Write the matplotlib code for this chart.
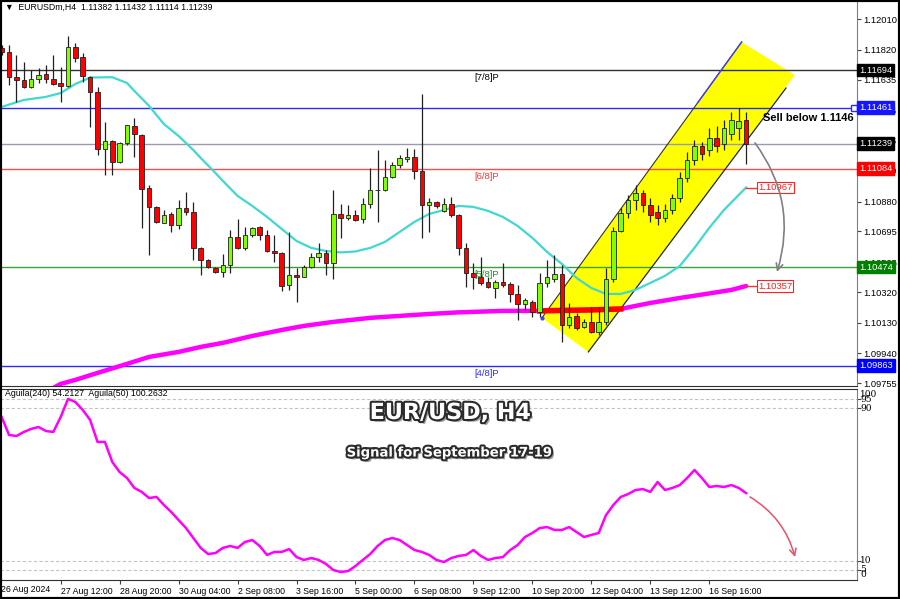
import numpy as np
import matplotlib
matplotlib.use("Agg")
import matplotlib.pyplot as plt
from matplotlib import patheffects as pe
from matplotlib.patches import Polygon, Rectangle
from matplotlib.transforms import blended_transform_factory

plt.rcParams['font.family'] = ['Liberation Sans', 'DejaVu Sans']

# ── H4 candles, EURUSD, 26 Aug -> 17 Sep 2024 ──────────────────────────
opens = [1.11829, 1.11808, 1.11653, 1.11633, 1.11591, 1.11639, 1.11670, 1.11637, 1.11612, 1.11596,
         1.11839, 1.11773, 1.11653, 1.11560, 1.11204, 1.11257, 1.11127, 1.11241, 1.11348, 1.11292,
         1.10962, 1.10849, 1.10750, 1.10801, 1.10735, 1.10839, 1.10814, 1.10591, 1.10519, 1.10467,
         1.10442, 1.10488, 1.10663, 1.10591, 1.10673, 1.10725, 1.10673, 1.10576, 1.10560, 1.10364,
         1.10426, 1.10415, 1.10473, 1.10535, 1.10560, 1.10498, 1.10803, 1.10777, 1.10797, 1.10771,
         1.10865, 1.10952, 1.10950, 1.11034, 1.11107, 1.11144, 1.11158, 1.11071, 1.10859, 1.10879,
         1.10823, 1.10865, 1.10797, 1.10591, 1.10440, 1.10413, 1.10385, 1.10343, 1.10385, 1.10370,
         1.10308, 1.10246, 1.10260, 1.10199, 1.10378, 1.10401, 1.10432, 1.10116, 1.10172, 1.10102,
         1.10137, 1.10075, 1.10137, 1.10399, 1.10700, 1.10809, 1.10890, 1.10933, 1.10859, 1.10816,
         1.10778, 1.10828, 1.10902, 1.11026, 1.11138, 1.11224, 1.11199, 1.11274, 1.11237, 1.11299,
         1.11336, 1.11382]
highs = [1.11849, 1.11849, 1.11788, 1.11746, 1.11695, 1.11705, 1.11726, 1.11788, 1.11715, 1.11905,
         1.11860, 1.11798, 1.11660, 1.11591, 1.11375, 1.11262, 1.11250, 1.11356, 1.11396, 1.11296,
         1.10983, 1.10852, 1.10828, 1.10817, 1.10890, 1.10941, 1.10876, 1.10601, 1.10525, 1.10477,
         1.10556, 1.10704, 1.10771, 1.10725, 1.10725, 1.10731, 1.10704, 1.10673, 1.10565, 1.10694,
         1.10467, 1.10488, 1.10560, 1.10626, 1.10580, 1.10952, 1.10865, 1.10859, 1.10828, 1.10903,
         1.11086, 1.11199, 1.11137, 1.11127, 1.11169, 1.11210, 1.11206, 1.11546, 1.10900, 1.10885,
         1.10900, 1.10907, 1.10800, 1.10622, 1.10502, 1.10539, 1.10415, 1.10395, 1.10498, 1.10385,
         1.10364, 1.10281, 1.10271, 1.10440, 1.10519, 1.10550, 1.10488, 1.10254, 1.10189, 1.10152,
         1.10230, 1.10230, 1.10467, 1.10725, 1.10840, 1.10921, 1.10983, 1.10952, 1.10902, 1.10859,
         1.10865, 1.10927, 1.11063, 1.11187, 1.11261, 1.11249, 1.11336, 1.11348, 1.11385, 1.11435,
         1.11460, 1.11432]
lows = [1.11788, 1.11602, 1.11498, 1.11581, 1.11581, 1.11612, 1.11612, 1.11602, 1.11498, 1.11590,
        1.11746, 1.11622, 1.11344, 1.11169, 1.11045, 1.11045, 1.11117, 1.11230, 1.11158, 1.10715,
        1.10550, 1.10746, 1.10746, 1.10694, 1.10709, 1.10797, 1.10519, 1.10426, 1.10467, 1.10436,
        1.10415, 1.10436, 1.10588, 1.10580, 1.10663, 1.10642, 1.10570, 1.10508, 1.10329, 1.10333,
        1.10260, 1.10410, 1.10467, 1.10508, 1.10426, 1.10399, 1.10653, 1.10766, 1.10762, 1.10746,
        1.10839, 1.10756, 1.10945, 1.11024, 1.11086, 1.11127, 1.11018, 1.10653, 1.10694, 1.10839,
        1.10817, 1.10787, 1.10550, 1.10353, 1.10337, 1.10364, 1.10343, 1.10281, 1.10353, 1.10260,
        1.10147, 1.10209, 1.10164, 1.10164, 1.10353, 1.10384, 1.10013, 1.10096, 1.10085, 1.10096,
        1.10065, 1.10054, 1.10116, 1.10384, 1.10694, 1.10778, 1.10828, 1.10816, 1.10754, 1.10735,
        1.10754, 1.10803, 1.10878, 1.11001, 1.11107, 1.11138, 1.11162, 1.11187, 1.11199, 1.11261,
        1.11261, 1.11114]
closes = [1.11808, 1.11653, 1.11633, 1.11591, 1.11637, 1.11664, 1.11637, 1.11606, 1.11596, 1.11839,
          1.11767, 1.11658, 1.11560, 1.11204, 1.11257, 1.11127, 1.11241, 1.11354, 1.11299, 1.10956,
          1.10845, 1.10756, 1.10797, 1.10735, 1.10839, 1.10814, 1.10591, 1.10519, 1.10473, 1.10442,
          1.10488, 1.10663, 1.10591, 1.10673, 1.10719, 1.10673, 1.10576, 1.10560, 1.10358, 1.10426,
          1.10415, 1.10477, 1.10535, 1.10560, 1.10498, 1.10803, 1.10777, 1.10797, 1.10766, 1.10865,
          1.10952, 1.10950, 1.11034, 1.11107, 1.11152, 1.11158, 1.11071, 1.10859, 1.10879, 1.10853,
          1.10865, 1.10797, 1.10591, 1.10440, 1.10413, 1.10375, 1.10353, 1.10385, 1.10364, 1.10308,
          1.10246, 1.10271, 1.10199, 1.10378, 1.10413, 1.10432, 1.10116, 1.10168, 1.10096, 1.10137,
          1.10075, 1.10137, 1.10399, 1.10700, 1.10809, 1.10890, 1.10933, 1.10859, 1.10797, 1.10778,
          1.10828, 1.10902, 1.11026, 1.11138, 1.11224, 1.11175, 1.11274, 1.11224, 1.11336, 1.11385,
          1.11379, 1.11239]

# fast MA (cyan), sampled at bar indices
cyan_idx = [0, 3, 6, 8, 10, 12, 15, 17, 18, 20, 22, 24, 26, 27, 29, 30, 32, 34, 36, 38,
            40, 42, 44, 46, 48, 50, 52, 54, 56, 58, 60, 62, 64, 66, 68, 70, 72, 74, 76, 78,
            80, 82, 84, 86, 88, 90, 92, 94, 96, 98, 100, 101]
cyan_vals = [1.11466, 1.11509, 1.11528, 1.11552, 1.11608, 1.11648, 1.11650, 1.11614, 1.11565, 1.11472,
             1.11360, 1.11286, 1.11199, 1.11150, 1.11057, 1.11008, 1.10915, 1.10853, 1.10785, 1.10710,
             1.10636, 1.10593, 1.10574, 1.10565, 1.10571, 1.10593, 1.10630, 1.10692, 1.10754, 1.10803,
             1.10828, 1.10853, 1.10847, 1.10822, 1.10785, 1.10729, 1.10655, 1.10568, 1.10494, 1.10407,
             1.10345, 1.10308, 1.10308, 1.10333, 1.10376, 1.10420, 1.10481, 1.10593, 1.10717, 1.10828,
             1.10921, 1.10967]

# slow MA (magenta)
mag_idx = [7, 8, 10, 13, 17, 20, 24, 27, 30, 34, 38, 41, 45, 50, 54, 58, 62, 66, 68, 73,
           76, 80, 84, 86, 88, 92, 96, 99, 101]
mag_vals = [1.09726, 1.09751, 1.09776, 1.09819, 1.09875, 1.09918, 1.09949, 1.09980, 1.10005, 1.10048,
            1.10085, 1.10110, 1.10135, 1.10160, 1.10172, 1.10184, 1.10194, 1.10200, 1.10203, 1.10203,
            1.10206, 1.10209, 1.10215, 1.10234, 1.10252, 1.10283, 1.10311, 1.10333, 1.10357]

# horizontal levels
level_vals = [1.11694, 1.11461, 1.11239, 1.11084, 1.10474, 1.09863]
level_lines = ['#303030', '#2a2aff', '#9a9ab0', '#ff4a4a', '#3aa03a', '#2a2aff']
level_boxes = ['#000000', '#1515ff', '#000000', '#ff0000', '#008000', '#0000ff']

murrey_text = ['[7/8]P', '[6/8]P', '[5/8]P', '[4/8]P']
murrey_vals = [1.11694, 1.11084, 1.10474, 1.09863]
murrey_cols = ['#000000', '#ff3030', '#229022', '#2a2aff']

price_ticks = [1.12010, 1.11820, 1.11635, 1.11445, 1.11255, 1.11070, 1.10880,
               1.10695, 1.10505, 1.10320, 1.10130, 1.09940, 1.09755]

# up-channel corners (bar index, price)
chan_idx = [73.3, 79.6, 107.6, 100.4]
chan_px = [1.10160, 1.09949, 1.11664, 1.11868]

# Aguila(240) oscillator, one value per bar
aguila = [85.3, 75.9, 75.4, 77.5, 79.1, 80.1, 78, 77.5, 85.3, 94.8,
          93.2, 89, 83.8, 72.3, 72.3, 61.8, 56.5, 53.4, 48.2, 46.1,
          42.9, 43.5, 39.3, 35.6, 31.4, 27.2, 22, 16.8, 13.6, 14.1,
          16.8, 17.8, 16.8, 19.9, 20.9, 17.8, 13.1, 14.7, 14.7, 16.2,
          12, 10.5, 11.5, 10.5, 8.4, 5.2, 4.2, 4.7, 7.3, 10.5,
          13.6, 17.8, 20.9, 22, 20.9, 18.3, 15.7, 14.7, 13.1, 10.5,
          9.4, 11.5, 12.6, 13.1, 15.7, 12.6, 10.5, 11.5, 12, 15.7,
          18.3, 22.5, 24.6, 27.2, 27.7, 26.2, 26.2, 27.7, 25.1, 22.5,
          23.6, 24.6, 34, 39.3, 43.5, 45, 47.1, 47.6, 46.1, 51.3,
          47.1, 48.2, 49.7, 53.4, 57.6, 53.4, 48.7, 49.2, 48.7, 49.7,
          48.2, 45.5]

date_ticks = [8, 16, 24, 32, 40, 48, 56, 64, 72, 80, 88, 96]
date_labels = ['27 Aug 12:00', '28 Aug 20:00', '30 Aug 04:00', '2 Sep 08:00', '3 Sep 16:00',
               '5 Sep 00:00', '6 Sep 08:00', '9 Sep 12:00', '10 Sep 20:00', '12 Sep 04:00',
               '13 Sep 12:00', '16 Sep 16:00']

W, H = 900, 599


def idx(px):
    # pixel x -> bar index
    return (px - 1.7) / 7.37


fig = plt.figure(figsize=(9, 5.99), dpi=100)
ax = fig.add_axes([0, 1 - 386 / H, 857 / W, 386 / H])
ax2 = fig.add_axes([0, 1 - 580 / H, 857 / W, (580 - 389) / H])
for a in (ax, ax2):
    a.set_xlim(idx(0), idx(857))
    a.set_facecolor('white')
    for s in ('left', 'top'):
        a.spines[s].set_visible(False)
    a.spines['right'].set_color('#808080')
    a.spines['bottom'].set_color('#303030')
ax2.spines['top'].set_visible(True)
ax2.spines['top'].set_color('#303030')
ax.set_ylim(1.09738, 1.12128)
ax2.set_ylim(0, 100)

# ── main price panel ─────────────────────────────────────────────────
ax.add_patch(Polygon(list(zip(chan_idx, chan_px)), closed=True, fc='#ffff00',
                     ec='none', zorder=1))
ax.plot([chan_idx[1], idx(786)], [chan_px[1], 1.11583], color='#222222', lw=0.9, zorder=2)
ax.plot([chan_idx[0], chan_idx[3]], [chan_px[0], chan_px[3]], color='#333333', lw=0.8, zorder=2)
# upper part of the channel's top edge is drawn in blue
f = 0.78
ax.plot([chan_idx[0] + f * (chan_idx[3] - chan_idx[0]), chan_idx[3]],
        [chan_px[0] + f * (chan_px[3] - chan_px[0]), chan_px[3]],
        color='#4040ff', lw=1.0, zorder=2.1)
ax.plot(chan_idx[0], chan_px[0], 'o', ms=2, color='#4040ff', zorder=2)

for v, lc in zip(level_vals, level_lines):
    ax.axhline(v, color=lc, lw=1, zorder=1.5)
ax.plot(idx(854), level_vals[1], 's', ms=4, mfc='white', mec='#2a2aff', mew=1,
        zorder=6, clip_on=False)

for t, v, c in zip(murrey_text, murrey_vals, murrey_cols):
    ax.text(idx(487), v - 0.00018, t, color=c, fontsize=6.8, ha='center', va='top', zorder=6)

ax.plot(mag_idx, mag_vals, color='#ff00ff', lw=3.2, zorder=2.5, solid_capstyle='round')
i0, i1 = mag_idx.index(73), mag_idx.index(84)
ax.plot(mag_idx[i0:i1 + 1], mag_vals[i0:i1 + 1], color='#ff0000', lw=4, zorder=2.6)
ax.plot(cyan_idx, cyan_vals, color='#40d8d0', lw=1.6, zorder=2.5)

o = np.array(opens)
c = np.array(closes)
x = np.arange(len(o))
up = c >= o
cols = np.where(up, '#80ff00', '#ff0000')
ax.vlines(x, lows, highs, color='#202020', lw=0.9, zorder=3)
body = np.maximum(np.abs(c - o), 0.00002)
ax.bar(x, body, 0.62, bottom=np.minimum(o, c), color=cols, edgecolor='#202020',
       lw=0.6, zorder=4)

# MA value tags
for val, xi in ((cyan_vals[-1], cyan_idx[-1]), (mag_vals[-1], mag_idx[-1])):
    ax.plot([xi, idx(756)], [val, val], color='#ff3030', lw=1, zorder=5)
    ax.text(idx(758), val, f"{val:.5f}", color='#ff2020', fontsize=6.8, va='center',
            ha='left', zorder=7,
            bbox=dict(boxstyle='square,pad=0.12', fc='white', ec='#ff2020', lw=0.8))

ax.text(idx(763), 1.11398, 'Sell below 1.1146', fontsize=8, fontweight='bold',
        va='center', ha='left', zorder=7)
ax.annotate('', xy=(idx(777), 1.10444), xytext=(idx(755), 1.11243),
            arrowprops=dict(arrowstyle='->', color='#808080', lw=1.2,
                            connectionstyle='arc3,rad=-0.25', shrinkA=0, shrinkB=0,
                            mutation_scale=12), zorder=7)

ax.yaxis.tick_right()
ax.set_yticks(price_ticks)
ax.set_yticklabels([f"{t:.5f}" for t in price_ticks])
ax.tick_params(axis='y', length=3, width=0.8, color='#404040', labelsize=6.7, pad=1.5)
ax.set_xticks([])

tr = blended_transform_factory(ax.transAxes, ax.transData)
for v, bc in zip(level_vals, level_boxes):
    ax.text(1.0025, v, f"{v:.5f}", transform=tr, color='white', fontsize=6.7,
            va='center', ha='left', zorder=10, clip_on=False,
            bbox=dict(boxstyle='square,pad=0.2', fc=bc, ec=bc))

# ── Aguila panel ─────────────────────────────────────────────────────
for lv in (95, 90, 10, 5):
    ax2.axhline(lv, color='#c4c4c4', lw=0.8, ls=(0, (3, 2)), zorder=1)
ax2.plot(np.arange(len(aguila)), aguila, color='#ff00ff', lw=1.8, zorder=3)
ax2.annotate('', xy=(idx(795), 12.0), xytext=(idx(750), 43.5),
             arrowprops=dict(arrowstyle='->', color='#e8506a', lw=1.1,
                             connectionstyle='arc3,rad=-0.2', shrinkA=0, shrinkB=0,
                             mutation_scale=12), zorder=4)
ax2.set_yticks([95, 90, 10, 5])
ax2.set_yticklabels([])
ax2.yaxis.tick_right()
ax2.tick_params(axis='y', length=3, width=0.8, color='#404040')
tr2 = blended_transform_factory(ax2.transAxes, ax2.transData)
for lab, v in (('100', 97.2), ('95', 94.6), ('90', 90), ('10', 10), ('5', 5.6), ('0', 3.0)):
    ax2.text(1.004, v, lab, transform=tr2, fontsize=6.5, family='DejaVu Serif',
             va='center', ha='left', clip_on=False)

ax2.set_xticks(date_ticks)
ax2.set_xticklabels(date_labels)
for lbl in ax2.get_xticklabels():
    lbl.set_ha('left')
ax2.tick_params(axis='x', length=3, width=0.8, color='#404040', labelsize=6.3, pad=2)
fig.text(1 / W, 1 - 589 / H, '26 Aug 2024', fontsize=6.3, va='center', ha='left')

ax2.text(5 / 857, 97.5, 'Aguila(240) 54.2127  Aguila(50) 100.2632', transform=tr2,
         fontsize=6.3, va='center', ha='left')

fx_title = [pe.SimplePatchShadow(offset=(2, -2), shadow_rgbFace='#444444', alpha=0.5),
            pe.Stroke(linewidth=3, foreground='#2b2b2b'), pe.Normal()]
fig.text(450 / W, 1 - 413 / H, 'EUR/USD, H4', fontsize=16, fontweight='bold',
         family='DejaVu Sans', color='white', ha='center', va='center', path_effects=fx_title)
fig.text(450 / W, 1 - 453 / H, 'Signal for September 17-19', fontsize=9.5,
         fontweight='bold', family='DejaVu Sans', color='white', ha='center',
         va='center', path_effects=fx_title)

# header
fig.text(5 / W, 1 - 7 / H, '\u25bc  EURUSDm,H4  1.11382 1.11432 1.11114 1.11239',
         fontsize=6.3, va='center', ha='left')

fig.add_artist(Rectangle((0, 0), 1, 1, transform=fig.transFigure, fill=False,
                         ec='black', lw=3))

fig.savefig('out.png', dpi=100, facecolor='white')
